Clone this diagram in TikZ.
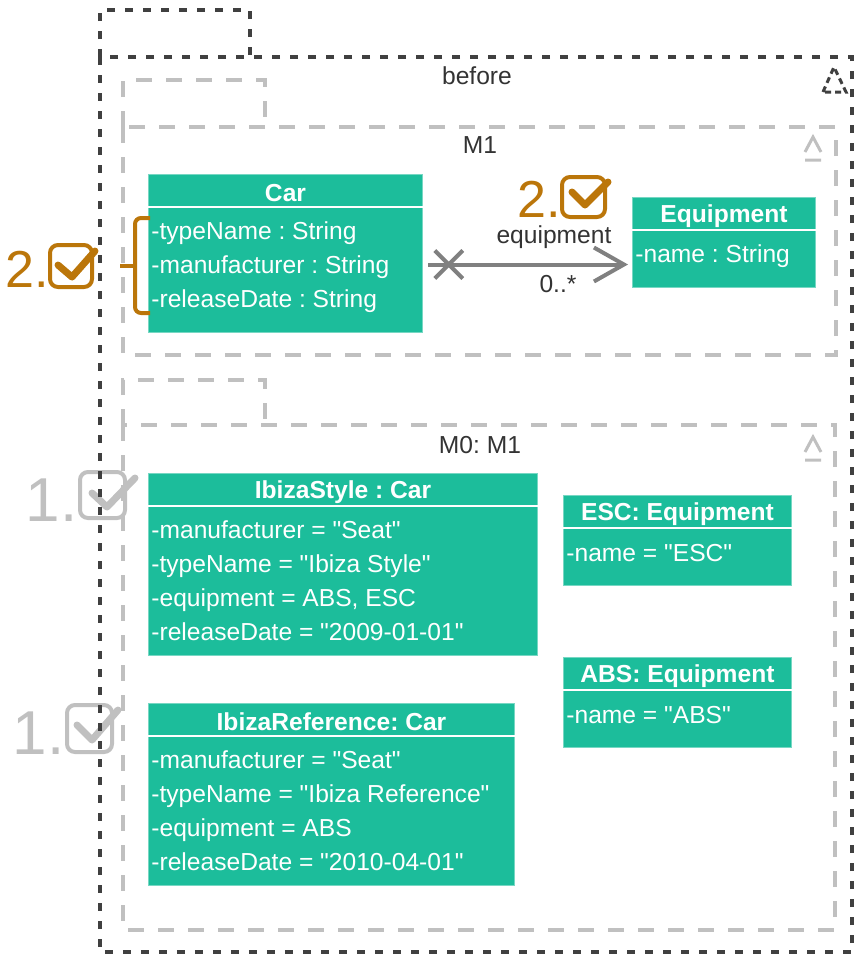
\documentclass[tikz,border=0pt]{standalone}
\usepackage{fontspec}
\newfontfamily\uifont{Liberation Sans}
\usetikzlibrary{arrows.meta,shapes.misc}
\definecolor{umlteal}{RGB}{28,189,155}
\definecolor{pkgdark}{RGB}{64,64,64}
\definecolor{pkglight}{RGB}{192,192,192}
\definecolor{assocgrey}{RGB}{128,128,128}
\definecolor{markorange}{RGB}{187,118,10}
\definecolor{labelgrey}{RGB}{51,51,51}
\frenchspacing

\begin{document}
\begin{tikzpicture}[x=0.5pt,y=-0.5pt,
	txt/.style={font=\uifont\fontsize{12.3}{17}\selectfont},
	outerpkg/.style={draw=pkgdark,line width=2pt,dash pattern=on 4pt off 5pt},
	innerpkg/.style={draw=pkglight,line width=2pt,dash pattern=on 8pt off 7pt},
	cls/.style={fill=umlteal,draw=umlteal!60!white,line width=0.5pt,anchor=north west,inner sep=0pt},
	clsname/.style={font=\uifont\fontsize{12.3}{17}\selectfont\bfseries,text=white},
	attrs/.style={txt,text=white,align=left,anchor=north west,inner sep=0pt},
	sepline/.style={draw=white,line width=1pt},
	pkgname/.style={txt,text=labelgrey},
	assoc/.style={draw=assocgrey,line width=2pt,-{Straight Barb[length=15pt,width=17pt]}},
	xmark/.style={cross out,draw=assocgrey,line width=2pt,minimum size=12pt,inner sep=0pt},
	stepnum/.style={anchor=base east,inner sep=0pt},
	tickbox/.style={line width=2pt,rounded corners=4pt},
	tick/.style={line width=3.5pt,line cap=round,line join=round}]
	\useasboundingbox (0,0) rectangle (856,955);

	% step marks
	\node[stepnum,text=markorange,font=\uifont\fontsize{26}{26}\selectfont] (stepleft) at (49,287) {2.};
	\draw[tickbox,markorange] (50,245) rectangle (92,287);
	\draw[tick,markorange] (58,265) -- (72,277) -- (95,251);
	\node[stepnum,text=markorange,font=\uifont\fontsize{26}{26}\selectfont] (steptop) at (561,217) {2.};
	\draw[tickbox,markorange] (562,177) rectangle (605,217);
	\draw[tick,markorange] (572,192) -- (585,205) -- (608,182);
	\node[stepnum,text=pkglight,font=\uifont\fontsize{31}{31}\selectfont] (stepstyle) at (78,521) {1.};
	\draw[tickbox,pkglight] (80,472) rectangle (125,518);
	\draw[tick,pkglight] (92,493) -- (107,507) -- (135,478);
	\node[stepnum,text=pkglight,font=\uifont\fontsize{31}{31}\selectfont] (stepref) at (65,754) {1.};
	\draw[tickbox,pkglight] (67,705) rectangle (112,752);
	\draw[tick,pkglight] (77,725) -- (92,740) -- (118,710);

	% before
	\draw[outerpkg] (100,57) |- (250,10) -- (250,57);
	\draw[outerpkg] (100,57) rectangle (852,952);
	\node[pkgname] (before) at (477,76) {before};
	\draw[outerpkg,dash pattern=on 3pt off 2pt,line width=1.5pt] (823,92) -- (834,67) -- (846,92) -- cycle;

	% M1
	\draw[innerpkg] (123,127) |- (265,80) -- (265,127);
	\draw[innerpkg] (123,127) rectangle (836,355);
	\node[pkgname] (mone) at (480,145) {M1};
	\draw[innerpkg,solid,line width=1.5pt] (805,152) -- (813,137) -- (821,152) (805,160) -- (821,160);

	% M0
	\draw[innerpkg] (123,425) |- (265,380) -- (265,425);
	\draw[innerpkg] (123,425) rectangle (835,930);
	\node[pkgname] (mzero) at (480,445) {M0: M1};
	\draw[innerpkg,solid,line width=1.5pt] (805,452) -- (813,437) -- (821,452) (805,460) -- (821,460);

	% classes
	\node[cls,minimum width=137pt,minimum height=79pt] (car) at (148,174) {};
	\node[clsname] at ([yshift=-9.5pt]car.north) {Car};
	\draw[sepline] ([yshift=-16.5pt]car.north west) -- ([yshift=-16.5pt]car.north east);
	\node[attrs] (carattr) at ([shift={(1.5pt,-23.5pt)}]car.north west) {-typeName : String\\-manufacturer : String\\-releaseDate : String};

	\node[cls,minimum width=91.5pt,minimum height=45pt] (equip) at (632,197) {};
	\node[clsname] at ([yshift=-9.5pt]equip.north) {Equipment};
	\draw[sepline] ([yshift=-16.5pt]equip.north west) -- ([yshift=-16.5pt]equip.north east);
	\node[attrs] (equipattr) at ([shift={(1.5pt,-23.5pt)}]equip.north west) {-name : String};

	\node[cls,minimum width=194.5pt,minimum height=91pt] (ibizastyle) at (148,473) {};
	\node[clsname] at ([yshift=-9.5pt]ibizastyle.north) {IbizaStyle : Car};
	\draw[sepline] ([yshift=-16.5pt]ibizastyle.north west) -- ([yshift=-16.5pt]ibizastyle.north east);
	\node[attrs] (ibizastyleattr) at ([shift={(1.5pt,-23.5pt)}]ibizastyle.north west) {-manufacturer = "Seat"\\-typeName = "Ibiza Style"\\-equipment = ABS, ESC\\-releaseDate = "2009-01-01"};

	\node[cls,minimum width=183pt,minimum height=91pt] (ibizaref) at (148,703) {};
	\node[clsname] at ([yshift=-9.5pt]ibizaref.north) {IbizaReference: Car};
	\draw[sepline] ([yshift=-16.5pt]ibizaref.north west) -- ([yshift=-16.5pt]ibizaref.north east);
	\node[attrs] (ibizarefattr) at ([shift={(1.5pt,-23.5pt)}]ibizaref.north west) {-manufacturer = "Seat"\\-typeName = "Ibiza Reference"\\-equipment = ABS\\-releaseDate = "2010-04-01"};

	\node[cls,minimum width=114pt,minimum height=45pt] (esc) at (563,495) {};
	\node[clsname] at ([yshift=-9.5pt]esc.north) {ESC: Equipment};
	\draw[sepline] ([yshift=-16.5pt]esc.north west) -- ([yshift=-16.5pt]esc.north east);
	\node[attrs] (escattr) at ([shift={(1.5pt,-24.5pt)}]esc.north west) {-name = "ESC"};

	\node[cls,minimum width=114pt,minimum height=45pt] (abs) at (563,657) {};
	\node[clsname] at ([yshift=-9.5pt]abs.north) {ABS: Equipment};
	\draw[sepline] ([yshift=-16.5pt]abs.north west) -- ([yshift=-16.5pt]abs.north east);
	\node[attrs] (absattr) at ([shift={(1.5pt,-24.5pt)}]abs.north west) {-name = "ABS"};

	% association
	\draw[assoc] ([shift={(5,11)}]car.east) -- node[xmark,pos=0.104] (xm) {}
		node[pos=0.63,yshift=13.5pt,txt,text=labelgrey] (assocname) {equipment}
		node[pos=0.65,yshift=-10pt,txt,text=labelgrey] (assocmult) {0..*} ([shift={(-4,22)}]equip.west);

	% brace
	\draw[markorange,line width=2pt,rounded corners=3pt] (150,218) -| (135,313) -- (150,313);
	\draw[markorange,line width=2pt] (135,266) -- (120,266);
\end{tikzpicture}
\end{document}
